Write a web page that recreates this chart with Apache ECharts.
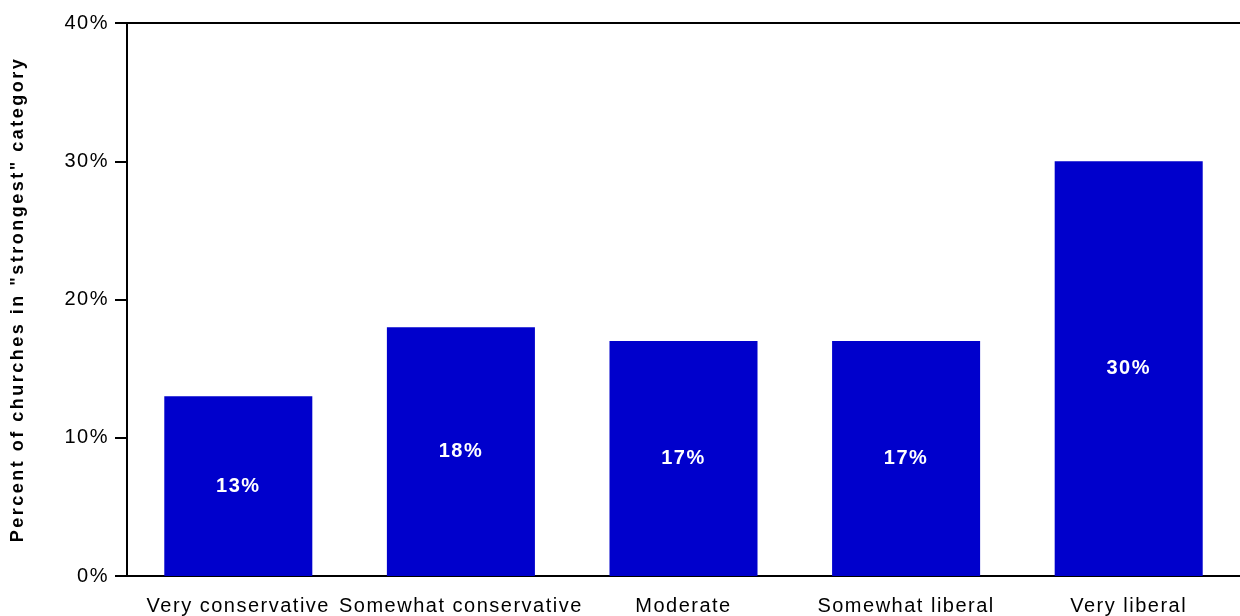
<!DOCTYPE html>
<html><head><meta charset="utf-8">
<script src="https://cdn.jsdelivr.net/npm/echarts@6/dist/echarts.min.js"></script>
<style>html,body{margin:0;padding:0;background:#fff}#c{width:1240px;height:616px}</style>
</head><body><div id="c"></div>
<script>
const categories = ["Very conservative", "Somewhat conservative", "Moderate", "Somewhat liberal", "Very liberal"];
const values = [13, 18, 17, 17, 30];
const yTicks = [0, 10, 20, 30, 40];
const yName = 'Percent of churches in "strongest" category';

// widen letter spacing of drawn text to mimic the reference's typesetting
(function () {
  const P = CanvasRenderingContext2D.prototype;
  const pick = function (ctx) {
    return /bold 18px/.test(ctx.font) ? '2.5px' : '1.5px';
  };
  const ft = P.fillText, st = P.strokeText;
  P.fillText = function (t, x, y, m) { this.letterSpacing = pick(this); return m === undefined ? ft.call(this, t, x, y) : ft.call(this, t, x, y, m); };
  P.strokeText = function (t, x, y, m) { this.letterSpacing = pick(this); return m === undefined ? st.call(this, t, x, y) : st.call(this, t, x, y, m); };
})();

const chart = echarts.init(document.getElementById('c'), null, {renderer: 'canvas'});
const font = '"Liberation Sans", Arial, sans-serif';
chart.setOption({
  animation: false,
  grid: {left: 127, right: -6, top: 23, bottom: 40, containLabel: false},
  xAxis: [{
    type: 'category', data: categories, position: 'bottom',
    axisLine: {lineStyle: {color: '#000', width: 2}},
    axisTick: {alignWithLabel: true, length: 12, lineStyle: {color: '#000', width: 1.5}},
    axisLabel: {color: '#000', fontSize: 20, fontFamily: font, margin: 20, interval: 0}
  }, {
    type: 'category', data: categories, position: 'top',
    axisLine: {lineStyle: {color: '#000', width: 2}},
    axisTick: {show: false}, axisLabel: {show: false}
  }],
  yAxis: {
    type: 'value', min: yTicks[0], max: yTicks[yTicks.length - 1], interval: 10,
    name: yName, nameLocation: 'middle', nameRotate: 90, nameGap: 100,
    nameTextStyle: {color: '#000', fontSize: 18, fontWeight: 'bold', fontFamily: font},
    axisLine: {show: true, lineStyle: {color: '#000', width: 2}},
    axisTick: {show: true, length: 12, lineStyle: {color: '#000', width: 2}},
    axisLabel: {color: '#000', fontSize: 20, fontFamily: font, margin: 18, formatter: '{value}%'},
    splitLine: {show: false}
  },
  series: [{
    type: 'bar', data: values, barWidth: '66.5%',
    itemStyle: {color: '#0000CC'},
    label: {show: true, position: 'inside', color: '#fff', fontSize: 20, fontWeight: 'bold', fontFamily: font, formatter: '{c}%'}
  }]
});
</script></body></html>
